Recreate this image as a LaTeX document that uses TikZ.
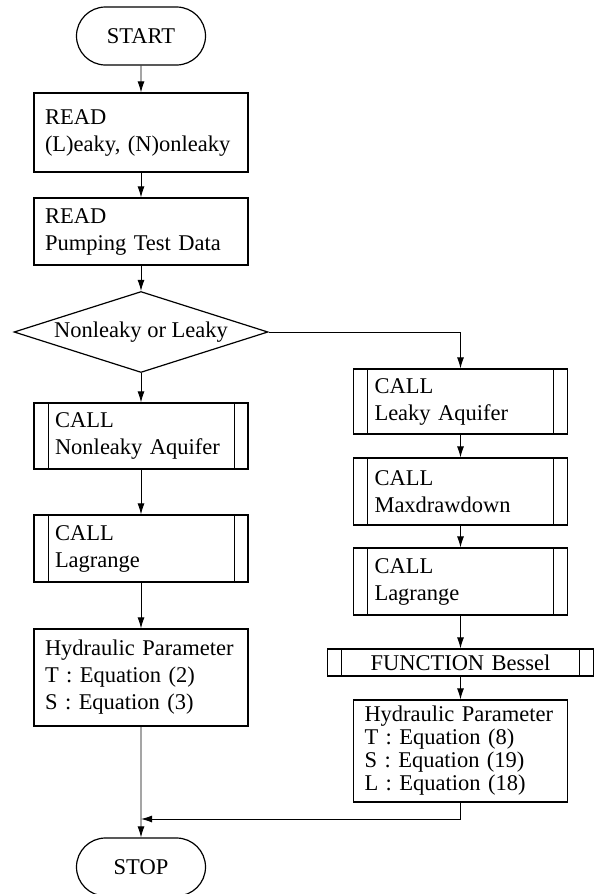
\documentclass[tikz,border=0pt]{standalone}
\usepackage{fontspec}
\setmainfont{Liberation Serif}
\usetikzlibrary{shapes.geometric,shapes.misc,arrows.meta}
\usetikzlibrary{positioning}
\tikzset{every node/.style={font=\fontsize{22.5pt}{27pt}\selectfont},
term/.style={rounded rectangle, draw, line width=1.2pt, minimum width=129pt, minimum height=58pt, inner sep=0pt},
proc/.style={rectangle, draw, line width=1.2pt, text width=192pt, inner xsep=11pt, inner ysep=0pt, align=left},
sub/.style={proc, text width=172pt, inner xsep=21pt,
  path picture={\draw[line width=1pt]
    ([xshift=14pt]path picture bounding box.north west) -- ([xshift=14pt]path picture bounding box.south west)
    ([xshift=-14pt]path picture bounding box.north east) -- ([xshift=-14pt]path picture bounding box.south east);}},
decide/.style={diamond, draw, line width=1.2pt, aspect=3.1, inner sep=0pt, minimum width=254pt, minimum height=81pt},
flow/.style={->, line width=0.9pt}
}

\begin{document}
\begin{tikzpicture}[x=1pt, y=1pt, >={Latex[length=11pt,width=7pt]}, node distance=100pt, on grid]
    \useasboundingbox (0,0) rectangle (595,-894);

    \node[term]                         (start) at (141,-36)                       {START};
    \node[proc, minimum height=79pt]    (read1) [below=96.5pt of start]            {READ\\(L)eaky, (N)onleaky};
    \node[proc, minimum height=67pt]    (read2) [below=99pt of read1]              {READ\\Pumping Test Data};
    \node[decide]                       (dec)   [below=100.5pt of read2]           {Nonleaky or Leaky};
    \node[sub, minimum height=66pt]     (nleak) [below=104pt of dec]               {CALL\\Nonleaky Aquifer};
    \node[sub, minimum height=67pt]     (lagl)  [below=112.5pt of nleak]           {CALL\\Lagrange};
    \node[proc, minimum height=97pt]    (hydl)  [below=129pt of lagl]              {Hydraulic Parameter\\T : Equation (2)\\S : Equation (3)};
    \node[term]                         (stop)  [below=189.5pt of hydl]            {STOP};
    \coordinate[above=48pt of stop] (join);

    \node[sub, minimum height=65pt]     (leak)  [below right=69.5pt and 319.5pt of dec] {CALL\\Leaky Aquifer};
    \node[sub, minimum height=67pt]     (maxd)  [below=90pt of leak]               {CALL\\Maxdrawdown};
    \node[sub, minimum height=67pt]     (lagr)  [below=90pt of maxd]               {CALL\\Lagrange};
    \node[sub, text width=224pt, align=center, minimum height=27pt]
                                        (bes)   [below=81pt of lagr]               {FUNCTION Bessel};
    \node[proc, minimum height=102pt, font=\fontsize{22.5pt}{23pt}\selectfont]
                                        (hydr)  [below=88.5pt of bes]              {Hydraulic Parameter\\T : Equation (8)\\S : Equation (19)\\L : Equation (18)};

    \draw[flow] (start) -- (read1);
    \draw[flow] (read1) -- (read2);
    \draw[flow] (read2) -- (dec);
    \draw[flow] (dec)   -- (nleak);
    \draw[flow] (nleak) -- (lagl);
    \draw[flow] (lagl)  -- (hydl);
    \draw[flow] (hydl)  -- (stop);
    \draw[flow] (dec.east) -| (leak);
    \draw[flow] (leak)  -- (maxd);
    \draw[flow] (maxd)  -- (lagr);
    \draw[flow] (lagr)  -- (bes);
    \draw[flow] (bes)   -- (hydr);
    \draw[flow] (hydr)  |- (join);
\end{tikzpicture}
\end{document}
